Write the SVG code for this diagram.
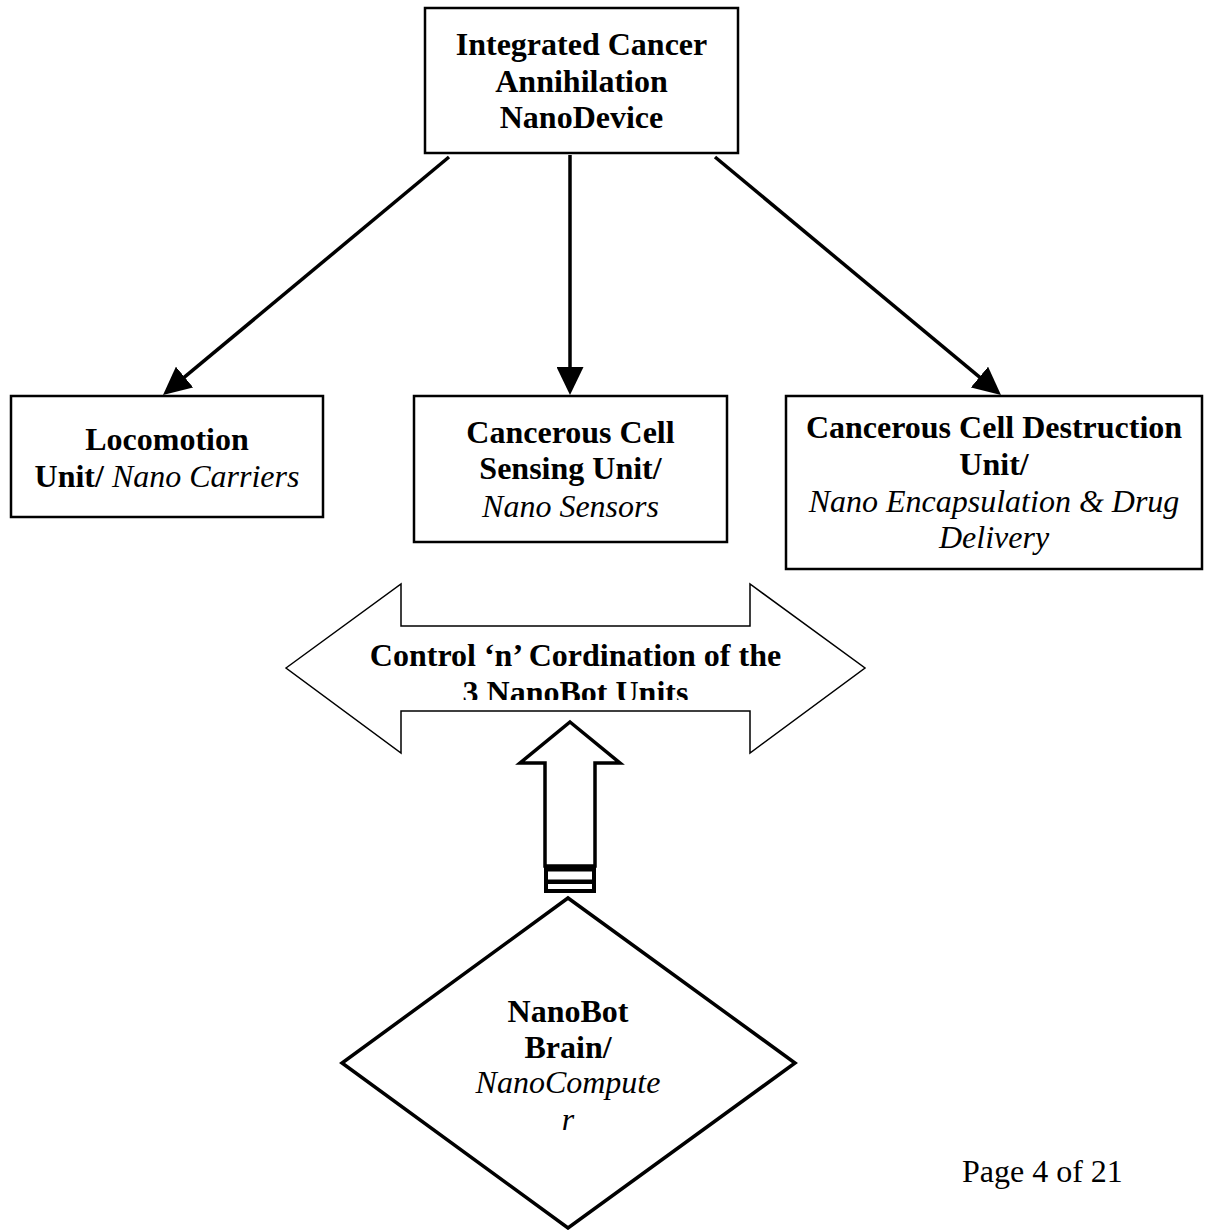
<svg xmlns="http://www.w3.org/2000/svg" width="1206" height="1230" viewBox="0 0 1206 1230">
<style>
text{font-family:"Liberation Serif","Times New Roman",serif;font-size:32px;fill:#000;text-anchor:middle}
.b{font-weight:bold}
.i{font-style:italic}
.box{fill:#fff;stroke:#000;stroke-width:2.5}
.conn{stroke:#000;stroke-width:3.5;fill:none}
.thick{fill:#fff;stroke:#000;stroke-width:3.5}
</style>
<defs>
<marker id="ah" markerUnits="userSpaceOnUse" markerWidth="28" markerHeight="27" refX="8" refY="13.5" orient="auto">
<path d="M0,0 L28,13.5 L0,27 z" fill="#000"/>
</marker>
<clipPath id="dclip"><rect x="280" y="560" width="600" height="140"/></clipPath>
</defs>
<rect width="1206" height="1230" fill="#fff"/>

<g id="connectors">
<line class="conn" x1="449" y1="157" x2="178.4" y2="382.2" marker-end="url(#ah)"/>
<line class="conn" x1="570" y1="155" x2="570" y2="375" marker-end="url(#ah)"/>
<line class="conn" x1="715" y1="157" x2="985.6" y2="382.2" marker-end="url(#ah)"/>
</g>

<g id="node-device">
<rect class="box" x="425" y="8" width="313" height="145"/>
<text class="b" x="581.5" y="55">Integrated Cancer</text>
<text class="b" x="581.5" y="92">Annihilation</text>
<text class="b" x="581.5" y="128">NanoDevice</text>
</g>

<g id="node-locomotion">
<rect class="box" x="11" y="396" width="312" height="121"/>
<text class="b" x="167" y="450">Locomotion</text>
<text x="167" y="487"><tspan class="b">Unit/</tspan><tspan class="i"> Nano Carriers</tspan></text>
</g>

<g id="node-sensing">
<rect class="box" x="414" y="396" width="313" height="146"/>
<text class="b" x="570.5" y="443">Cancerous Cell</text>
<text class="b" x="570.5" y="479">Sensing Unit/</text>
<text class="i" x="570.5" y="517">Nano Sensors</text>
</g>

<g id="node-destruction">
<rect class="box" x="786" y="396" width="416" height="173"/>
<text class="b" x="994" y="438">Cancerous Cell Destruction</text>
<text class="b" x="994" y="475">Unit/</text>
<text class="i" x="994" y="512">Nano Encapsulation &amp; Drug</text>
<text class="i" x="994" y="548">Delivery</text>
</g>

<g id="node-control">
<polygon points="286,668 401,584 401,626 750,626 750,584 865,668 750,753 750,711 401,711 401,753" fill="#fff" stroke="#000" stroke-width="1.5"/>
<g clip-path="url(#dclip)">
<text class="b" x="575.5" y="666">Control ‘n’ Cordination of the</text>
<text class="b" x="575.5" y="703">3 NanoBot Units</text>
</g>
</g>

<g id="node-uparrow">
<polygon class="thick" points="570,722 620,763 595,763 595,866 545,866 545,763 520,763"/>
<rect x="544" y="866" width="52" height="27" fill="#000"/>
<rect x="548" y="871.5" width="44" height="8" fill="#fff"/>
<rect x="548" y="884" width="44" height="5" fill="#fff"/>
</g>

<g id="node-brain">
<polygon class="thick" points="568,898 795,1063 568,1228 342,1063"/>
<text class="b" x="568" y="1022">NanoBot</text>
<text class="b" x="568" y="1058">Brain/</text>
<text class="i" x="568" y="1093">NanoCompute</text>
<text class="i" x="568" y="1130">r</text>
</g>

<text x="962" y="1182" style="text-anchor:start">Page 4 of 21</text>
</svg>
